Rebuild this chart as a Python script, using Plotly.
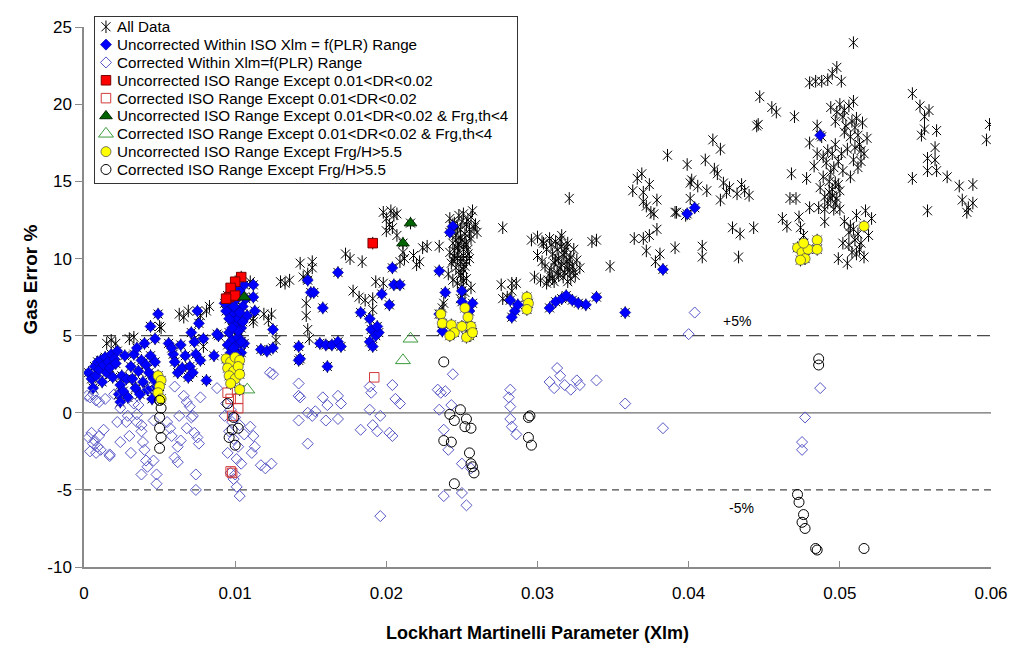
import plotly.graph_objects as go

# ---------------------------------------------------------------------------
# Gas over-reading error versus Lockhart-Martinelli parameter.
# Each series is a list of (Xlm, gas error %) pairs.
# ---------------------------------------------------------------------------

# Points that appear only in the "All Data" set (no correction category)
stars_only = [
    (0.0015, 4.5), (0.0021, 4.5), (0.0018, 4.7), (0.0030, 4.8), (0.0033, 4.9),
    (0.0051, 5.5), (0.0050, 5.6), (0.0063, 6.4), (0.0066, 6.2), (0.0069, 6.6),
    (0.0077, 6.3), (0.0081, 6.6), (0.0083, 6.9), (0.0079, 4.3), (0.0073, 4.8),
    (0.0110, 8.5), (0.0112, 6.1), (0.0124, 6.4), (0.0127, 4.7), (0.0119, 6.4),
    (0.0122, 6.0), (0.0112, 5.9),
    (0.0130, 8.5), (0.0133, 8.4), (0.0136, 8.6), (0.0143, 9.7), (0.0145, 8.8),
    (0.0148, 9.0), (0.0151, 9.4), (0.0151, 9.8), (0.0147, 7.1), (0.0147, 6.3),
    (0.0148, 5.4), (0.0149, 4.8), (0.0173, 10.3), (0.0176, 10.0), (0.0184, 9.8),
    (0.0178, 7.9), (0.0182, 7.5), (0.0186, 7.3), (0.0193, 8.5), (0.0198, 8.4),
    (0.0191, 7.4), (0.0191, 6.7),
    (0.0198, 13.0), (0.0200, 12.6), (0.0202, 12.2), (0.0205, 12.8), (0.0207, 12.9),
    (0.0203, 13.1), (0.0200, 11.8), (0.0204, 12.0), (0.0207, 11.5), (0.0211, 10.4),
    (0.0209, 9.8), (0.0218, 10.2), (0.0220, 9.6), (0.0212, 10.0),
    (0.0224, 10.7), (0.0227, 10.8), (0.0235, 10.8), (0.0222, 9.8),
    (0.0242, 12.6), (0.0245, 12.3), (0.0248, 12.8), (0.0251, 12.9), (0.0254, 12.5),
    (0.0257, 13.1), (0.0259, 12.2), (0.0243, 11.8), (0.0246, 11.5), (0.0249, 11.9),
    (0.0252, 11.6), (0.0255, 11.9), (0.0244, 11.0), (0.0247, 10.7), (0.0250, 11.2),
    (0.0253, 10.9), (0.0256, 11.3), (0.0242, 10.4), (0.0245, 10.1), (0.0248, 10.5),
    (0.0251, 10.2), (0.0254, 10.6), (0.0243, 9.7), (0.0246, 9.4), (0.0249, 9.8),
    (0.0252, 9.5), (0.0255, 10.0), (0.0250, 9.0), (0.0251, 8.6), (0.0250, 8.2),
    (0.0252, 7.8), (0.0249, 7.4), (0.0258, 12.0), (0.0260, 11.7), (0.0241, 9.0),
    (0.0244, 8.6), (0.0238, 7.1), (0.0237, 6.8), (0.0256, 8.1),
    (0.0244, 12.2), (0.0247, 12.0), (0.0250, 12.4), (0.0253, 12.2), (0.0256, 12.7),
    (0.0246, 11.2), (0.0249, 11.4), (0.0252, 11.0), (0.0255, 11.6), (0.0245, 10.5),
    (0.0248, 10.9), (0.0251, 10.6), (0.0254, 10.3), (0.0244, 9.9), (0.0247, 10.0),
    (0.0250, 9.9), (0.0253, 9.8), (0.0248, 9.2), (0.0251, 9.3), (0.0249, 8.9),
    (0.0247, 8.4), (0.0253, 8.7),
    (0.0277, 12.0), (0.0321, 13.9),
    (0.0276, 8.3), (0.0283, 7.9), (0.0286, 8.4), (0.0280, 7.5), (0.0283, 8.4), (0.0277, 7.4),
    (0.0296, 11.2), (0.0300, 11.4), (0.0304, 11.0), (0.0308, 11.3), (0.0312, 11.1),
    (0.0316, 11.5), (0.0320, 11.0), (0.0306, 10.6), (0.0310, 10.3), (0.0314, 10.0),
    (0.0318, 10.4), (0.0322, 10.1), (0.0311, 9.7), (0.0315, 9.4), (0.0319, 9.8),
    (0.0323, 9.5), (0.0326, 9.9), (0.0313, 9.1), (0.0317, 8.8), (0.0321, 9.2),
    (0.0325, 8.9), (0.0302, 8.6), (0.0306, 8.4), (0.0310, 8.7), (0.0298, 8.8),
    (0.0308, 9.0), (0.0320, 8.5), (0.0328, 9.4), (0.0316, 10.8), (0.0324, 10.6),
    (0.0303, 9.8), (0.0300, 10.2),
    (0.0309, 10.9), (0.0313, 10.6), (0.0317, 10.2), (0.0321, 9.9), (0.0312, 9.9),
    (0.0316, 9.6), (0.0320, 9.4), (0.0314, 8.9), (0.0318, 9.1), (0.0322, 8.7),
    (0.0309, 9.3), (0.0305, 9.5), (0.0307, 8.6), (0.0324, 9.2), (0.0319, 10.7),
    (0.0311, 8.5), (0.0303, 11.1), (0.0315, 11.2),
    (0.0336, 11.1), (0.0339, 11.2), (0.0348, 9.5), (0.0363, 14.4), (0.0370, 13.7),
    (0.0375, 13.0), (0.0379, 13.8),
    (0.0364, 11.3), (0.0370, 11.3), (0.0374, 11.5), (0.0372, 10.5), (0.0378, 9.8),
    (0.0381, 10.3), (0.0379, 11.9), (0.0391, 10.7), (0.0391, 13.0), (0.0409, 10.8),
    (0.0409, 10.1), (0.0433, 10.1), (0.0429, 12.0), (0.0434, 11.6), (0.0443, 12.0),
    (0.0366, 15.2), (0.0370, 14.3), (0.0374, 14.8), (0.0369, 15.5), (0.0372, 13.4),
    (0.0377, 12.9), (0.0386, 16.7), (0.0392, 13.0), (0.0398, 12.8), (0.0399, 16.1),
    (0.0401, 14.9), (0.0401, 13.9), (0.0402, 15.1), (0.0406, 14.7), (0.0412, 14.4),
    (0.0411, 16.4), (0.0416, 17.7), (0.0421, 17.1), (0.0417, 15.8), (0.0419, 15.5),
    (0.0425, 14.3), (0.0423, 14.9), (0.0421, 13.8), (0.0427, 14.6), (0.0432, 14.2),
    (0.0437, 14.4), (0.0440, 14.1), (0.0435, 14.8), (0.0445, 18.6),
    (0.0447, 20.5), (0.0455, 19.8), (0.0458, 19.5), (0.0470, 19.2), (0.0446, 18.7),
    (0.0509, 24.0), (0.0480, 21.4), (0.0484, 21.5), (0.0488, 21.5), (0.0492, 21.6),
    (0.0495, 22.0), (0.0498, 22.4), (0.0501, 21.5), (0.0485, 18.6),
    (0.0494, 19.8), (0.0498, 19.5), (0.0502, 19.2), (0.0506, 19.9), (0.0509, 20.2),
    (0.0497, 18.9), (0.0511, 19.1), (0.0504, 18.6), (0.0500, 20.0),
    (0.0503, 18.2), (0.0507, 17.9), (0.0510, 18.5), (0.0513, 17.4), (0.0516, 16.8),
    (0.0509, 16.4), (0.0505, 17.1), (0.0512, 15.9), (0.0515, 18.8), (0.0518, 17.8),
    (0.0502, 15.7), (0.0507, 15.3), (0.0514, 16.3),
    (0.0480, 17.5), (0.0485, 16.8), (0.0488, 17.9), (0.0491, 16.2), (0.0494, 15.6),
    (0.0497, 14.9), (0.0493, 14.3), (0.0489, 15.3), (0.0483, 16.0), (0.0498, 13.9),
    (0.0496, 13.2), (0.0492, 13.6), (0.0487, 14.6), (0.0500, 14.4), (0.0478, 15.2),
    (0.0486, 13.3), (0.0495, 16.8), (0.0490, 14.0), (0.0494, 13.9), (0.0495, 14.5),
    (0.0493, 15.0), (0.0496, 15.9), (0.0492, 17.0), (0.0499, 16.3), (0.0497, 17.4),
    (0.0501, 16.8), (0.0489, 16.6), (0.0497, 13.6), (0.0499, 14.8), (0.0495, 14.1),
    (0.0510, 17.2), (0.0512, 18.0), (0.0508, 18.9), (0.0503, 19.6), (0.0514, 17.0),
    (0.0468, 15.5), (0.0467, 13.9), (0.0471, 13.9), (0.0480, 13.3), (0.0462, 12.6),
    (0.0465, 12.1), (0.0473, 12.7), (0.0474, 12.0), (0.0490, 13.2), (0.0490, 12.4),
    (0.0500, 13.2), (0.0503, 12.4), (0.0506, 11.7), (0.0510, 11.2), (0.0513, 10.6),
    (0.0516, 10.1), (0.0508, 10.4), (0.0502, 11.0), (0.0519, 11.5), (0.0521, 12.6),
    (0.0499, 10.0), (0.0505, 9.7), (0.0511, 12.8), (0.0517, 13.1),
    (0.0506, 10.9), (0.0509, 11.9), (0.0512, 11.6), (0.0514, 11.0), (0.0507, 12.1),
    (0.0511, 10.3),
    (0.0476, 11.5), (0.0475, 10.3),
    (0.0548, 20.7), (0.0553, 19.9), (0.0559, 19.6), (0.0556, 19.2), (0.0556, 18.4),
    (0.0554, 18.0), (0.0564, 18.3), (0.0563, 17.2), (0.0563, 16.4), (0.0558, 16.5),
    (0.0548, 15.2), (0.0558, 15.7), (0.0564, 15.7), (0.0571, 15.3), (0.0558, 13.1),
    (0.0579, 14.7), (0.0588, 14.8), (0.0581, 13.8), (0.0585, 13.3), (0.0588, 13.6),
    (0.0584, 13.0), (0.0599, 18.7), (0.0597, 17.7),
]

uncorrected_within = [
    (0.0003, 2.6), (0.0005, 2.2), (0.0006, 1.6), (0.0007, 3.0), (0.0008, 2.4),
    (0.0009, 3.3), (0.0010, 2.8), (0.0011, 3.4), (0.0012, 2.0), (0.0013, 3.1),
    (0.0014, 3.6), (0.0015, 2.6), (0.0016, 3.3), (0.0017, 2.9), (0.0018, 3.8),
    (0.0019, 2.3), (0.0020, 3.5), (0.0021, 3.2), (0.0022, 4.0), (0.0023, 1.2),
    (0.0024, 1.8), (0.0024, 0.7), (0.0025, 2.4), (0.0026, 1.4), (0.0027, 3.7),
    (0.0028, 2.2), (0.0029, 1.0),
    (0.0031, 3.0), (0.0032, 2.2), (0.0033, 3.8), (0.0034, 1.6), (0.0035, 4.2),
    (0.0036, 2.7), (0.0037, 1.2), (0.0038, 3.4), (0.0039, 2.0), (0.0040, 4.5),
    (0.0041, 3.1), (0.0042, 1.5), (0.0043, 2.6), (0.0044, 3.7), (0.0044, 5.6),
    (0.0045, 0.9), (0.0046, 2.2), (0.0047, 3.3), (0.0047, 4.8), (0.0048, 1.7),
    (0.0049, 6.4), (0.0056, 4.5), (0.0059, 3.8),
    (0.0058, 4.2), (0.0060, 3.3), (0.0062, 2.6), (0.0064, 4.4), (0.0065, 2.9),
    (0.0067, 3.7), (0.0069, 2.3), (0.0070, 3.0), (0.0071, 5.2), (0.0072, 2.6),
    (0.0073, 4.6), (0.0074, 3.8), (0.0075, 6.6), (0.0076, 5.8), (0.0077, 3.4),
    (0.0079, 4.8), (0.0081, 2.1), (0.0086, 3.7), (0.0089, 5.0),
    (0.0095, 7.6), (0.0097, 7.0), (0.0098, 6.4), (0.0099, 5.9), (0.0100, 7.3),
    (0.0101, 6.7), (0.0102, 6.1), (0.0103, 7.9), (0.0104, 5.5), (0.0105, 6.9),
    (0.0106, 8.3), (0.0096, 5.2), (0.0098, 4.7), (0.0100, 4.3), (0.0102, 4.9),
    (0.0104, 3.9), (0.0097, 3.9), (0.0101, 3.8), (0.0095, 4.4), (0.0106, 4.5),
    (0.0107, 7.4), (0.0094, 6.6), (0.0100, 5.6), (0.0108, 6.3), (0.0099, 8.0),
    (0.0088, 5.1), (0.0093, 7.1), (0.0099, 6.9), (0.0103, 6.5), (0.0096, 6.1),
    (0.0102, 5.3), (0.0105, 5.9), (0.0098, 5.5), (0.0104, 4.6), (0.0099, 4.2),
    (0.0112, 8.3), (0.0112, 7.5), (0.0113, 6.6), (0.0125, 5.4), (0.0117, 4.1),
    (0.0121, 4.0), (0.0125, 4.2), (0.0142, 4.3), (0.0142, 3.4), (0.0143, 3.5),
    (0.0148, 8.6), (0.0150, 7.8), (0.0152, 7.8), (0.0158, 6.8), (0.0156, 4.5),
    (0.0160, 4.4), (0.0164, 4.4), (0.0161, 3.0), (0.0168, 9.1), (0.0168, 4.6),
    (0.0170, 4.3), (0.0183, 6.5), (0.0189, 6.1), (0.0190, 5.4), (0.0189, 4.6),
    (0.0191, 4.3), (0.0193, 5.0), (0.0195, 5.2), (0.0194, 5.6), (0.0197, 7.7),
    (0.0202, 7.0), (0.0204, 9.4), (0.0205, 8.3), (0.0209, 8.3),
    (0.0235, 9.2), (0.0244, 12.1), (0.0242, 11.7), (0.0239, 7.8), (0.0250, 7.9),
    (0.0235, 6.4), (0.0237, 5.3), (0.0250, 7.2), (0.0255, 6.6), (0.0257, 7.1),
    (0.0282, 7.3), (0.0285, 6.6), (0.0287, 7.0), (0.0283, 6.2),
    (0.0308, 6.8), (0.0312, 7.2), (0.0316, 7.4), (0.0319, 7.6), (0.0323, 7.3),
    (0.0327, 7.1), (0.0332, 7.0), (0.0339, 7.5), (0.0358, 6.5), (0.0383, 9.3),
    (0.0399, 12.9), (0.0404, 13.3), (0.0487, 18.0),
]

corrected_within = [
    (0.0004, 1.0), (0.0008, 0.8), (0.0006, 1.2), (0.0014, 0.9), (0.0020, 1.2),
    (0.0024, 0.3), (0.0022, -0.6), (0.0002, 1.1), (0.0010, 0.7),
    (0.0005, -1.3), (0.0007, -1.8), (0.0009, -2.2), (0.0004, -2.5), (0.0010, -1.5),
    (0.0006, -2.0), (0.0003, -1.6), (0.0008, -2.6), (0.0011, -2.4), (0.0017, -2.7),
    (0.0013, -1.1), (0.0017, -2.8), (0.0024, -1.9), (0.0030, -1.5), (0.0031, -2.6),
    (0.0029, -0.2), (0.0035, -0.1), (0.0036, 0.5), (0.0033, 0.6), (0.0028, -0.6),
    (0.0038, -1.2), (0.0039, -1.9), (0.0040, -2.4), (0.0038, -0.8), (0.0041, -3.1),
    (0.0038, -4.0), (0.0042, -3.5), (0.0048, -4.0), (0.0048, -4.6), (0.0046, -3.1),
    (0.0044, 1.6), (0.0046, -0.5), (0.0035, -0.6),
    (0.0060, 1.7), (0.0066, 1.1), (0.0070, 0.4), (0.0072, -0.2), (0.0068, 0.7),
    (0.0077, 1.0), (0.0058, -1.5), (0.0062, -2.2), (0.0064, -1.8), (0.0060, -2.9),
    (0.0075, -1.6), (0.0076, -2.0), (0.0073, -1.3), (0.0074, -4.0), (0.0074, -5.0),
    (0.0055, -0.6), (0.0071, -0.3), (0.0063, -0.2), (0.0068, -1.0), (0.0057, -1.0),
    (0.0062, -3.2),
    (0.0088, 1.6), (0.0094, 0.6), (0.0097, 0.2), (0.0100, -0.3), (0.0103, -0.8),
    (0.0096, -1.2), (0.0099, -1.7), (0.0102, -2.2), (0.0095, -2.6), (0.0101, -3.0),
    (0.0104, -3.3), (0.0098, -0.6), (0.0093, -0.2), (0.0106, -1.4), (0.0110, -0.9),
    (0.0112, -1.5), (0.0113, -2.2), (0.0111, -2.6), (0.0117, -3.4), (0.0120, -3.6),
    (0.0124, -3.3), (0.0123, 2.6), (0.0099, -4.3), (0.0101, -4.8), (0.0103, -5.4),
    (0.0100, -4.0), (0.0097, -3.9),
    (0.0125, 2.5), (0.0142, 1.9), (0.0142, 1.1), (0.0143, 1.0), (0.0142, -0.5),
    (0.0148, 0.0), (0.0151, -0.2), (0.0153, 0.1), (0.0148, -2.0), (0.0158, 1.0),
    (0.0161, 0.5), (0.0160, -0.5), (0.0168, 1.1), (0.0170, 0.6), (0.0168, -0.4),
    (0.0183, -1.1), (0.0189, 1.7), (0.0190, 1.3), (0.0189, 0.2), (0.0191, -0.8),
    (0.0194, -1.2), (0.0196, -0.2), (0.0202, -1.3), (0.0204, -1.5), (0.0204, 1.8),
    (0.0206, 0.9), (0.0209, 0.6), (0.0196, -6.7),
    (0.0244, 2.5), (0.0234, 1.5), (0.0236, 1.3), (0.0239, 1.4), (0.0235, 0.2),
    (0.0243, 0.5), (0.0238, -1.1), (0.0250, -3.3), (0.0256, -3.6), (0.0238, -5.4),
    (0.0250, -5.2), (0.0253, -6.0), (0.0241, -2.4),
    (0.0282, 1.5), (0.0281, 1.0), (0.0282, 0.4), (0.0282, -0.4), (0.0286, -1.4),
    (0.0283, -0.9),
    (0.0308, 2.0), (0.0311, 1.6), (0.0315, 2.4), (0.0318, 1.8), (0.0322, 1.5),
    (0.0326, 2.1), (0.0328, 1.8), (0.0313, 2.9), (0.0339, 2.1), (0.0358, 0.6),
    (0.0383, -1.0), (0.0404, 6.5), (0.0400, 5.1),
    (0.0487, 1.6), (0.0477, -0.3), (0.0475, -1.9), (0.0475, -2.4),
]

uncorrected_dr = [
    (0.0104, 8.8), (0.0100, 8.5), (0.0097, 8.1), (0.0096, 7.5), (0.0100, 7.6),
    (0.0094, 7.4), (0.0191, 11.0),
]

corrected_dr = [
    (0.0095, 1.3), (0.0097, 0.9), (0.0102, 0.9), (0.0102, 0.3), (0.0098, -0.2),
    (0.0097, -3.8), (0.0098, -3.9), (0.0192, 2.3),
]

uncorrected_dr_frg = [(0.0106, 7.5), (0.0211, 11.0), (0.0216, 12.3)]

corrected_dr_frg = [(0.0108, 1.5), (0.0211, 3.4), (0.0216, 4.8)]

uncorrected_frgh = [
    (0.0049, 2.4), (0.0051, 2.1), (0.0050, 1.7), (0.0049, 1.3), (0.0051, 0.9),
    (0.0094, 3.5), (0.0097, 3.3), (0.0100, 3.6), (0.0103, 3.4), (0.0095, 2.9),
    (0.0099, 2.7), (0.0102, 3.0), (0.0096, 2.4), (0.0100, 2.2), (0.0103, 2.5),
    (0.0097, 1.9), (0.0103, 1.5),
    (0.0236, 6.4), (0.0237, 5.8), (0.0243, 5.7), (0.0245, 5.2), (0.0242, 5.0),
    (0.0252, 6.8), (0.0254, 6.2), (0.0256, 5.6), (0.0255, 5.0), (0.0253, 4.9),
    (0.0250, 5.6), (0.0257, 5.2),
    (0.0293, 7.5), (0.0294, 7.1), (0.0293, 6.7),
    (0.0472, 10.7), (0.0475, 10.4), (0.0477, 10.0), (0.0479, 10.6), (0.0476, 11.0),
    (0.0485, 11.2), (0.0485, 10.6), (0.0474, 9.9), (0.0516, 12.1),
]

corrected_frgh = [
    (0.0050, 0.8), (0.0051, 0.3), (0.0050, -0.3), (0.0050, -1.0), (0.0051, -1.6),
    (0.0050, -2.3),
    (0.0095, 0.6), (0.0099, -0.3), (0.0102, -1.0), (0.0096, -1.6), (0.0100, -2.1),
    (0.0098, -1.1),
    (0.0238, 3.3), (0.0242, -0.1), (0.0245, -0.5), (0.0249, 0.2), (0.0253, -0.4),
    (0.0256, -1.0), (0.0252, -0.9), (0.0238, -1.8), (0.0243, -1.9), (0.0255, -2.6),
    (0.0257, -3.5), (0.0258, -3.9), (0.0256, -3.3), (0.0245, -4.6),
    (0.0294, -0.3), (0.0295, -0.2), (0.0294, -1.6), (0.0296, -2.1),
    (0.0486, 3.1), (0.0486, 3.5), (0.0472, -5.3), (0.0473, -5.8), (0.0476, -6.6),
    (0.0475, -7.1), (0.0477, -7.5), (0.0484, -8.8), (0.0485, -8.9), (0.0516, -8.8),
]

# every uncorrected reading is also part of the full data set
all_data = stars_only + uncorrected_within + uncorrected_dr + uncorrected_dr_frg + uncorrected_frgh

x_ticks = [0, 0.01, 0.02, 0.03, 0.04, 0.05, 0.06]
x_tick_labels = ["0", "0.01", "0.02", "0.03", "0.04", "0.05", "0.06"]
y_ticks = [-10, -5, 0, 5, 10, 15, 20, 25]
y_tick_labels = ["-10", "-5", "0", "5", "10", "15", "20", "25"]
limit_levels = [5, -5]
limit_labels = ["+5%", "-5%"]

legend_labels = [
    "All Data",
    "Uncorrected Within ISO Xlm = f(PLR) Range",
    "Corrected Within Xlm=f(PLR) Range",
    "Uncorrected ISO Range Except 0.01<DR<0.02",
    "Corrected ISO Range Except 0.01<DR<0.02",
    "Uncorrected ISO Range Except 0.01<DR<0.02 & Frg,th<4",
    "Corrected ISO Range Except 0.01<DR<0.02 & Frg,th<4",
    "Uncorrected ISO Range Except Frg/H>5.5",
    "Corrected ISO Range Except Frg/H>5.5",
]

# ---------------------------------------------------------------------------
FONT = "Liberation Sans, Arial, sans-serif"
AXIS_GREY = "#8a8a8a"

star_x = dict(symbol="x-thin-open", size=9, color="black", line=dict(color="black", width=1))
star_v = dict(symbol="line-ns-open", size=9, color="black", line=dict(color="black", width=1))

styles = [
    [star_x, star_v],
    [dict(symbol="diamond", size=8.5, color="#0000FF", line=dict(color="#00008B", width=0.6))],
    [dict(symbol="diamond-open", size=8.5, color="#5656C6", line=dict(color="#5656C6", width=1))],
    [dict(symbol="square", size=9.5, color="#FF0000", line=dict(color="#7A0000", width=1))],
    [dict(symbol="square-open", size=9.5, color="#D23A3A", line=dict(color="#D23A3A", width=1))],
    [dict(symbol="triangle-up", size=11, color="#006400", line=dict(color="#002800", width=1))],
    [dict(symbol="triangle-up-open", size=13, color="#3C9A3C", line=dict(color="#3C9A3C", width=1))],
    [dict(symbol="circle", size=10, color="#FFFF00", line=dict(color="#555555", width=0.8))],
    [dict(symbol="circle-open", size=10, color="#000000", line=dict(color="#000000", width=1))],
]

datasets = [
    all_data, uncorrected_within, corrected_within, uncorrected_dr, corrected_dr,
    uncorrected_dr_frg, corrected_dr_frg, uncorrected_frgh, corrected_frgh,
]

fig = go.Figure()

for pts, markers, name in zip(datasets, styles, legend_labels):
    for mk in markers:
        fig.add_trace(go.Scatter(
            x=[p[0] for p in pts], y=[p[1] for p in pts],
            mode="markers", marker=mk, name=name, showlegend=False,
            hoverinfo="x+y",
        ))

# legend panel drawn on its own small overlay axes (one row per series)
for row, (markers, name) in enumerate(zip(styles, legend_labels)):
    for mk in markers:
        fig.add_trace(go.Scatter(
            x=[11], y=[row], mode="markers", marker=mk,
            xaxis="x2", yaxis="y2", showlegend=False, hoverinfo="skip",
        ))
    safe = name.replace("&", "&amp;").replace("<", "&lt;").replace(">", "&gt;")
    fig.add_annotation(
        x=20, y=row, xref="x2", yref="y2", text=safe, showarrow=False,
        xanchor="left", yanchor="middle",
        font=dict(family=FONT, size=15.2, color="black"),
    )

# zero line and +/-5 % limits
fig.add_shape(type="line", xref="x", yref="y", x0=x_ticks[0], x1=x_ticks[-1],
              y0=0, y1=0, line=dict(color="#6e6e6e", width=1.2), layer="below")
fig.add_shape(type="line", xref="x", yref="y", x0=x_ticks[0], x1=x_ticks[-1],
              y0=limit_levels[0], y1=limit_levels[0],
              line=dict(color="#4a4a4a", width=1.2, dash="13px,6px"), layer="below")
fig.add_shape(type="line", xref="x", yref="y", x0=x_ticks[0], x1=x_ticks[-1],
              y0=limit_levels[1], y1=limit_levels[1],
              line=dict(color="#4a4a4a", width=1.2, dash="7px,5px"), layer="below")

fig.add_annotation(x=0.0432, y=5.95, xref="x", yref="y", text=limit_labels[0],
                   showarrow=False, font=dict(family=FONT, size=14, color="black"))
fig.add_annotation(x=0.0435, y=-6.2, xref="x", yref="y", text=limit_labels[1],
                   showarrow=False, font=dict(family=FONT, size=14, color="black"))

# axis titles
fig.add_annotation(x=0.5, y=-0.119, xref="paper", yref="paper",
                   text="<b>Lockhart Martinelli Parameter (Xlm)</b>", showarrow=False,
                   xanchor="center", yanchor="middle",
                   font=dict(family=FONT, size=18, color="black"))
fig.add_annotation(x=-0.0595, y=0.52, xref="paper", yref="paper",
                   text="<b>Gas Error %</b>", showarrow=False, textangle=-90,
                   xanchor="center", yanchor="middle",
                   font=dict(family=FONT, size=19, color="black"))

fig.update_layout(
    width=1013, height=647,
    margin=dict(l=84, r=22, t=5, b=80),
    paper_bgcolor="white", plot_bgcolor="white",
    showlegend=False,
    xaxis=dict(
        range=[x_ticks[0], x_ticks[-1]], tickvals=x_ticks, ticktext=x_tick_labels,
        ticks="inside", ticklen=6, tickcolor=AXIS_GREY, tickwidth=1.2,
        showline=True, linecolor=AXIS_GREY, linewidth=1.5,
        showgrid=False, zeroline=False, ticklabelstandoff=10,
        tickfont=dict(family=FONT, size=17, color="black"),
    ),
    yaxis=dict(
        domain=[0, 0.976], range=[y_ticks[0], y_ticks[-1]],
        tickvals=y_ticks, ticktext=y_tick_labels,
        ticks="outside", ticklen=7, tickcolor=AXIS_GREY, tickwidth=1.2,
        showline=True, linecolor=AXIS_GREY, linewidth=1.5,
        showgrid=False, zeroline=False,
        tickfont=dict(family=FONT, size=17, color="black"),
    ),
    xaxis2=dict(
        domain=[0.0121, 0.4774], range=[0, 422], anchor="y2",
        showline=True, mirror=True, linecolor="#333333", linewidth=1,
        showticklabels=False, ticks="", showgrid=False, zeroline=False,
        fixedrange=True,
    ),
    yaxis2=dict(
        domain=[0.694, 0.9947], range=[8.77, -0.552], anchor="x2",
        showline=True, mirror=True, linecolor="#333333", linewidth=1,
        showticklabels=False, ticks="", showgrid=False, zeroline=False,
        fixedrange=True,
    ),
)

fig.write_html("out.html")
